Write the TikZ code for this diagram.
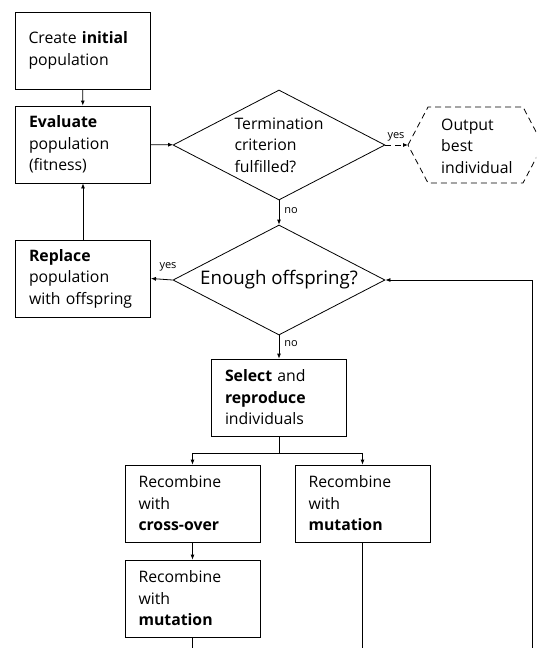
\documentclass[tikz,border=0pt]{standalone}
\usepackage{fontspec}
\setmainfont{Open Sans}
\usetikzlibrary{shapes.geometric,arrows.meta}
\begin{document}
\begin{tikzpicture}[x=1pt,y=-1pt,
  every node/.style={font=\fontsize{15.8}{21.5}\selectfont},
  box/.style={draw, line width=0.8pt, minimum width=135pt, minimum height=77pt, text width=108pt, align=left, inner sep=0pt},
  dec/.style={draw, diamond, aspect=1.93, minimum width=212pt, minimum height=110pt, inner sep=0pt, line width=0.8pt, align=left},
  arr/.style={-{Latex[length=5pt,width=4pt]}, line width=0.8pt},
  ln/.style={line width=0.8pt},
  lbl/.style={font=\fontsize{11}{13}\selectfont, inner sep=1pt},
  dsh/.style={line width=0.8pt, dash pattern=on 6pt off 4pt},
]
\clip (0,0) rectangle (536,648);
\fill[white] (0,0) rectangle (536,648);

% boxes
\node[box] (create) at (82.5,50.5) {Create \textbf{initial}\\population};
\node[box] (eval) at (83,144.5) {\textbf{Evaluate}\\population\\(fitness)};
\node[box] (repl) at (83,278.5) {\textbf{Replace}\\population\\with offspring};
\node[box] (sel) at (279,397.5) {\textbf{Select} and\\\textbf{reproduce}\\individuals};
\node[box] (cross) at (192.5,503.5) {Recombine\\with\\\textbf{cross-over}};
\node[box] (mutr) at (362.5,503.5) {Recombine\\with\\\textbf{mutation}};
\node[box] (mutl) at (192.5,598.5) {Recombine\\with\\\textbf{mutation}};

% diamonds
\node[dec] (term) at (279,145) {Termination\\criterion\\fulfilled?};
\node[dec, font=\fontsize{18.7}{22}\selectfont] (enough) at (279,280) {Enough offspring?};

% hexagon
\coordinate (hexL) at (408,145);
\draw[dsh] (hexL) -- (428,107) -- (523,107) -- (543,145) -- (523,183) -- (428,183) -- cycle;
\node[align=left, anchor=west, inner sep=0pt] (out) at (441,146) {Output\\best\\individual};

% connectors
\draw[arr] (create) -- (eval);
\draw[arr] (eval) -- (term);
\draw[arr, dsh] (term.east) -- (hexL);
\node[lbl] (yes1) at (396,137) {yes};
\draw[arr] (term.south) -- (enough.north);
\node[lbl] (no1) at (291,211) {no};
\draw[arr] (enough.west) -- (repl.east);
\node[lbl] (yes2) at (168,267) {yes};
\draw[arr] (repl.north) -- (eval.south);
\draw[arr] (enough.south) -- (sel.north);
\node[lbl] (no2) at (291,344) {no};

\coordinate (br) at (279,453);
\draw[ln] (sel.south) -- (br);
\draw[arr] (br) -| (cross.north);
\draw[arr] (br) -| (mutr.north);
\draw[arr] (cross) -- (mutl);

\coordinate (endL) at (192.5,650);
\coordinate (endR) at (362.5,650);
\coordinate (back) at (532,650);
\draw[ln] (mutl.south) -- (endL);
\draw[ln] (mutr.south) -- (endR);
\draw[arr] (back) |- (enough.east);
\end{tikzpicture}
\end{document}
